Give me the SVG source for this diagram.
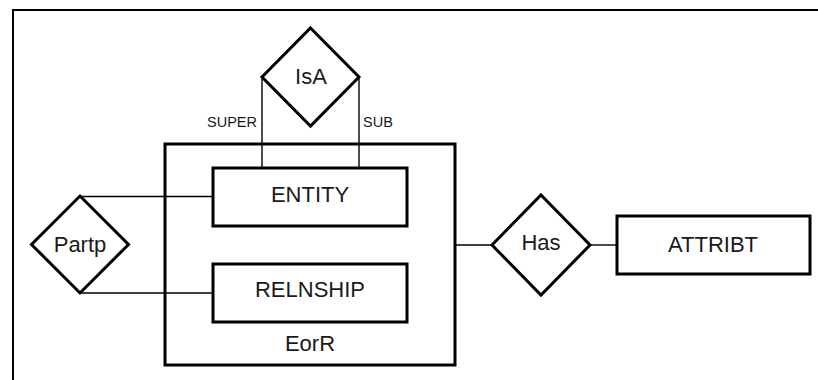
<svg xmlns="http://www.w3.org/2000/svg" width="818" height="380" viewBox="0 0 818 380">
  <style>
    .frame { fill: none; stroke: #000; stroke-width: 2; }
    .shape { fill: #fff; stroke: #000; stroke-width: 3; }
    .container { fill: none; stroke: #000; stroke-width: 3; }
    .link { fill: none; stroke: #000; stroke-width: 1.4; }
    .lbl { font-family: "Liberation Sans", Arial, sans-serif; font-size: 22px; fill: #1a1a1a; text-anchor: middle; }
    .role { font-family: "Liberation Sans", Arial, sans-serif; font-size: 14.5px; fill: #1a1a1a; text-anchor: middle; }
  </style>
  <rect width="818" height="380" fill="#fff"/>
  <!-- page frame, open on the right and bottom -->
  <rect class="frame" x="13" y="10" width="900" height="500"/>

  <!-- container entity (unfilled so links cross its border) -->
  <g id="EorR">
    <rect class="container" x="165" y="144" width="290" height="221"/>
    <text class="lbl" x="310" y="351">EorR</text>
  </g>

  <!-- connectors -->
  <g id="connectors">
    <line class="link" x1="262" y1="77" x2="262" y2="168"/>
    <line class="link" x1="359" y1="77" x2="359" y2="168"/>
    <line class="link" x1="80" y1="196.5" x2="213" y2="196.5"/>
    <line class="link" x1="80" y1="293" x2="213" y2="293"/>
    <line class="link" x1="455" y1="245" x2="492" y2="245"/>
    <line class="link" x1="590" y1="245" x2="617" y2="245"/>
  </g>

  <g id="ENTITY">
    <rect class="shape" x="213" y="168" width="194" height="58"/>
    <text class="lbl" x="310" y="202">ENTITY</text>
  </g>

  <g id="RELNSHIP">
    <rect class="shape" x="213" y="264" width="194" height="58"/>
    <text class="lbl" x="310" y="297">RELNSHIP</text>
  </g>

  <g id="IsA">
    <polygon class="shape" points="310.5,28 359,77 310.5,126 262,77"/>
    <text class="lbl" x="311" y="84">IsA</text>
    <text class="role" x="232" y="127">SUPER</text>
    <text class="role" x="378" y="127">SUB</text>
  </g>

  <g id="Partp">
    <polygon class="shape" points="80,196 128.5,244.5 80,293 31.5,244.5"/>
    <text class="lbl" x="80" y="252">Partp</text>
  </g>

  <g id="Has">
    <polygon class="shape" points="541,195 590,245 541,295 492,245"/>
    <text class="lbl" x="541" y="250">Has</text>
  </g>

  <g id="ATTRIBT">
    <rect class="shape" x="617" y="216" width="193" height="58"/>
    <text class="lbl" x="713" y="252">ATTRIBT</text>
  </g>
</svg>
